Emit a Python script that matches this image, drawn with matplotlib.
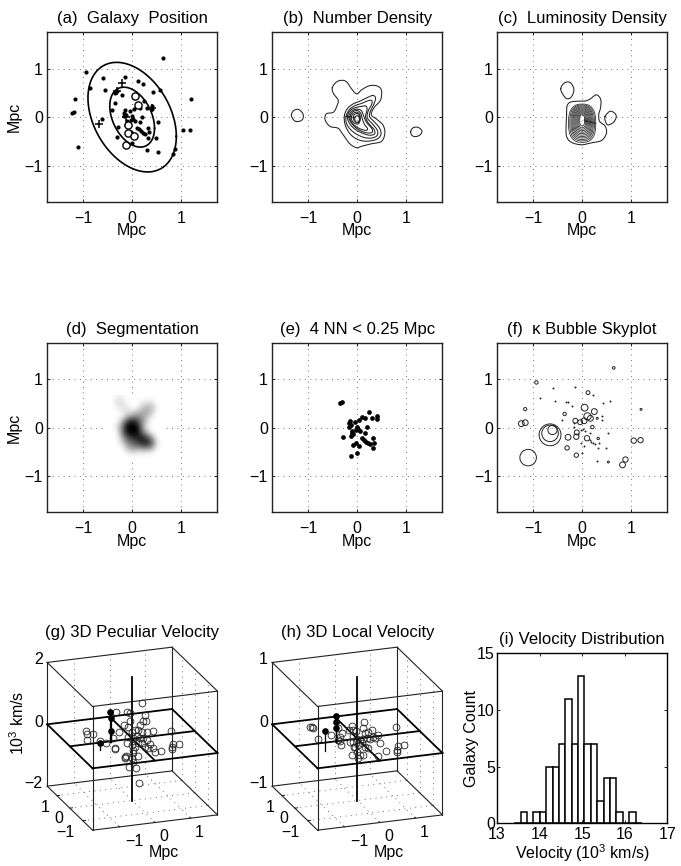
import numpy as np
import matplotlib
matplotlib.use("Agg")
import matplotlib.pyplot as plt
from matplotlib.patches import Circle

plt.rcParams['font.family'] = ['Liberation Sans', 'DejaVu Sans']
plt.rcParams['mathtext.fontset'] = 'custom'
plt.rcParams['mathtext.rm'] = 'Liberation Sans'
plt.rcParams['mathtext.default'] = 'regular'
plt.rcParams['axes.unicode_minus'] = True

FS = 11.5

# ---------- data (Mpc) ----------
# galaxies in the central clump, panel (e)
core_x = [-0.35, -0.31, 0.25, 0.40, 0.41, 0.31, 0.10, 0.16, 0.04, -0.05, -0.14, -0.17, -0.13, -0.16, 0.21,
          -0.01, 0.02, -0.03, 0.05, -0.10, -0.13, -0.08, -0.11, 0.17, -0.29, 0.09, 0.14, 0.19, 0.23, 0.27,
          0.33, 0.35, 0.33, -0.03, -0.08, 0.04, -0.01, -0.12]
core_y = [0.50, 0.53, 0.33, 0.24, 0.17, 0.19, 0.22, 0.19, 0.16, 0.12, 0.14, 0.09, 0.05, 0.02, 0.01,
          0.02, -0.03, -0.06, -0.08, -0.08, -0.17, -0.13, -0.11, -0.11, -0.20, -0.22, -0.25, -0.29, -0.32, -0.34,
          -0.22, -0.31, -0.43, -0.31, -0.35, -0.38, -0.53, -0.58]
# the rest of the galaxies, panel (a)
outer_x = [0.64, -0.95, -0.60, -0.14, 0.12, 0.22, -0.87, -0.55, 0.42, 0.57, -0.20, -1.17, 1.21, -0.36, -0.42,
           -1.24, -1.19, -0.61, 0.53, -0.31, -1.11, 1.05, 1.19, 0.31, 0.53, 0.88, 0.83, 0.48]
outer_y = [1.23, 0.93, 0.81, 0.83, 0.74, 0.68, 0.61, 0.55, 0.52, 0.55, 0.45, 0.38, 0.38, 0.29, 0.15,
           0.08, 0.10, -0.04, -0.11, -0.41, -0.61, -0.26, -0.26, -0.68, -0.71, -0.65, -0.76, -0.44]
big_x = [0.05, 0.11, -0.09, -0.09, 0.04, -0.13]
big_y = [0.43, 0.25, -0.16, -0.33, -0.39, -0.57]
plus_x = [-0.20, -0.31, 0.41, -0.68, -0.13]
plus_y = [0.71, 0.53, 0.18, -0.14, 0.01]
# ellipses: x extent, y extent, covariance
ell_sx = [0.908, 0.46]
ell_sy = [1.13, 0.618]
ell_sxy = [-0.36, -0.105]

# panel (b) contours
num_outer = [
    [(-0.51, 0.61), (-0.42, 0.73), (-0.29, 0.76), (-0.20, 0.71), (-0.12, 0.59), (-0.01, 0.48), (0.10, 0.57),
     (0.26, 0.65), (0.42, 0.64), (0.50, 0.55), (0.48, 0.35), (0.35, 0.20), (0.29, 0.05), (0.40, -0.04),
     (0.53, -0.16), (0.57, -0.33), (0.50, -0.50), (0.29, -0.55), (0.09, -0.60), (-0.01, -0.63), (-0.15, -0.55),
     (-0.29, -0.36), (-0.39, -0.23), (-0.56, -0.19), (-0.66, -0.05), (-0.63, 0.07), (-0.49, 0.10), (-0.42, 0.22),
     (-0.39, 0.35), (-0.49, 0.49)],
    [(-1.35, 0.03), (-1.31, 0.13), (-1.21, 0.16), (-1.12, 0.08), (-1.11, -0.02), (-1.17, -0.08), (-1.28, -0.08)],
    [(1.10, -0.30), (1.15, -0.22), (1.25, -0.21), (1.33, -0.28), (1.30, -0.36), (1.21, -0.40), (1.13, -0.38)],
]
num_inner = [
    [(-0.27, 0.05), (-0.22, 0.18), (-0.08, 0.29), (0.05, 0.32), (0.19, 0.39), (0.33, 0.48), (0.40, 0.41),
     (0.36, 0.29), (0.26, 0.11), (0.22, 0.01), (0.36, -0.09), (0.48, -0.23), (0.51, -0.36), (0.44, -0.46),
     (0.26, -0.50), (0.09, -0.50), (-0.08, -0.43), (-0.20, -0.29), (-0.27, -0.12)],
    [(-0.24, 0.01), (-0.18, 0.16), (-0.05, 0.25), (0.09, 0.27), (0.21, 0.34), (0.31, 0.37), (0.33, 0.29),
     (0.21, 0.12), (0.17, -0.02), (0.33, -0.14), (0.43, -0.27), (0.44, -0.38), (0.33, -0.44), (0.16, -0.44),
     (-0.01, -0.36), (-0.15, -0.26), (-0.24, -0.12)],
    [(-0.22, 0.01), (-0.16, 0.15), (-0.03, 0.21), (0.09, 0.21), (0.19, 0.26), (0.23, 0.17), (0.14, 0.01),
     (0.21, -0.12), (0.37, -0.25), (0.39, -0.36), (0.26, -0.39), (0.09, -0.33), (-0.08, -0.24), (-0.18, -0.11)],
    [(-0.20, 0.01), (-0.13, 0.13), (-0.01, 0.18), (0.10, 0.16), (0.13, 0.01), (0.18, -0.12), (0.33, -0.24),
     (0.34, -0.34), (0.16, -0.33), (-0.01, -0.25), (-0.13, -0.12)],
    [(-0.17, 0.0), (-0.10, 0.12), (0.0, 0.16), (0.09, 0.09), (0.10, -0.04), (0.14, -0.16), (0.23, -0.23),
     (0.22, -0.29), (0.09, -0.26), (-0.05, -0.19), (-0.13, -0.09)],
    [(-0.14, 0.0), (-0.08, 0.09), (0.0, 0.12), (0.07, 0.06), (0.07, -0.07), (0.03, -0.17), (-0.06, -0.13),
     (-0.11, -0.07)],
    [(-0.10, 0.0), (-0.05, 0.07), (0.01, 0.09), (0.06, 0.02), (0.06, -0.08), (0.0, -0.13), (-0.06, -0.08)],
    [(-0.06, 0.0), (0.0, 0.05), (0.05, 0.0), (0.05, -0.09), (0.0, -0.14), (-0.05, -0.08)],
]

# panel (c) contours
lum_contours = [
    [(-0.32, 0.05), (-0.31, 0.23), (-0.24, 0.31), (-0.08, 0.33), (0.05, 0.33), (0.16, 0.37), (0.29, 0.46),
     (0.38, 0.37), (0.38, 0.20), (0.34, 0.05), (0.36, -0.09), (0.47, -0.18), (0.50, -0.33), (0.40, -0.48),
     (0.19, -0.53), (-0.01, -0.57), (-0.22, -0.52), (-0.32, -0.40), (-0.33, -0.19)],
    [(-0.44, 0.59), (-0.36, 0.71), (-0.24, 0.71), (-0.17, 0.57), (-0.22, 0.42), (-0.31, 0.38), (-0.39, 0.46)],
    [(0.47, 0.01), (0.57, 0.12), (0.67, 0.08), (0.70, 0.0), (0.64, -0.11), (0.53, -0.16), (0.48, -0.09)],
]
lum_halfw = [0.28, 0.255, 0.23, 0.21, 0.19, 0.17, 0.15, 0.13, 0.11, 0.09, 0.07, 0.05]
lum_top = [0.27, 0.25, 0.23, 0.21, 0.19, 0.17, 0.15, 0.13, 0.11, 0.09, 0.07, 0.05]
lum_bot = [-0.52, -0.49, -0.46, -0.43, -0.40, -0.37, -0.34, -0.31, -0.28, -0.25, -0.22, -0.18]

# panel (d) darkness on a 0.1 Mpc grid
seg_x = [-0.5, -0.4, -0.3, -0.2, -0.1, 0.0, 0.1, 0.2, 0.3, 0.4, 0.5, 0.6]
seg_y = [0.6, 0.5, 0.4, 0.3, 0.2, 0.1, 0.0, -0.1, -0.2, -0.3, -0.4, -0.5, -0.6]
seg_dark = [
    [0, 0, .07, .05, 0, 0, 0, 0, 0, 0, 0, 0],
    [0, 0, .14, .12, .03, 0, 0, .05, .12, .12, 0, 0],
    [0, 0, .06, .12, .10, 0, .03, .18, .28, .26, .05, 0],
    [0, 0, 0, .05, .13, .14, .26, .34, .34, .22, 0, 0],
    [0, 0, 0, .10, .32, .50, .50, .42, .26, .06, 0, 0],
    [0, 0, .04, .32, .78, .95, .80, .45, .14, 0, 0, 0],
    [0, 0, .12, .50, 1.0, 1.0, 1.0, .48, .10, 0, 0, 0],
    [0, 0, .06, .48, .95, 1.0, 1.0, .62, .25, .03, 0, 0],
    [0, 0, .02, .36, .68, .85, .90, .85, .70, .36, .03, 0],
    [0, 0, 0, .18, .48, .62, .75, .88, .88, .65, .14, 0],
    [0, 0, 0, .05, .30, .45, .50, .58, .62, .48, .08, 0],
    [0, 0, 0, 0, .08, .20, .14, .12, .12, .08, 0, 0],
    [0, 0, 0, 0, 0, 0, 0, 0, 0, 0, 0, 0],
]

# panel (f) bubbles
bub_x = [-1.11, -0.66, -0.66, -0.61, -1.25, -1.17, -0.94, -1.17, 0.65, 0.12, 0.05, 0.25, 0.11, 0.17, 0.04, -0.04,
         -0.14, -0.36, 1.21, 0.31, 0.21, -0.29, -0.31, -0.12, -0.11, 0.10, 0.33, -0.12, 1.06, 1.20, 0.89, 0.83, 0.54]
bub_y = [-0.62, -0.15, -0.12, -0.05, 0.08, 0.10, 0.93, 0.38, 1.23, 0.72, 0.41, 0.33, 0.23, 0.19, 0.14, 0.11,
         0.14, 0.28, 0.375, 0.19, 0.01, -0.20, -0.42, -0.19, -0.10, -0.22, -0.225, -0.57, -0.27, -0.26, -0.66, -0.77, -0.71]
bub_r = [0.17, 0.225, 0.17, 0.095, 0.06, 0.06, 0.035, 0.033, 0.027, 0.04, 0.07, 0.06, 0.075, 0.06, 0.06, 0.05,
         0.05, 0.035, 0.02, 0.02, 0.035, 0.06, 0.045, 0.055, 0.05, 0.055, 0.025, 0.045, 0.055, 0.055, 0.055, 0.06, 0.02]
tiny_x = [-0.60, -0.14, -0.87, -0.55, -0.34, -0.30, -0.20, 0.22, 0.42, 0.57, -0.42, 0.40, 0.40, -0.17, -0.16, 0.02,
          0.05, -0.03, 0.17, -0.08, 0.16, 0.19, 0.23, 0.27, 0.35, 0.33, -0.03, 0.04, -0.01, 0.48, 0.31, 0.53]
tiny_y = [0.81, 0.83, 0.61, 0.54, 0.52, 0.53, 0.44, 0.67, 0.51, 0.55, 0.15, 0.23, 0.16, 0.09, 0.01, -0.03,
          -0.08, -0.06, -0.11, -0.13, -0.26, -0.29, -0.32, -0.34, -0.31, -0.43, -0.32, -0.39, -0.53, -0.43, -0.68, -0.12]

# panels (g), (h): galaxies as seen in the view plane (u across, w up)
g_u = [0.28, -0.50, -0.17, -0.07, 0.38, -0.07, 0.33, 0.40, -0.25, -0.12, -0.39, 0.23, -1.40, -1.35, -1.17, -1.35,
       -0.79, -0.57, -0.52, -0.52, -0.19, -0.22, 0.18, 0.08, -0.02, 0.28, 0.43, 0.61, 1.16, -0.12, 0.03, 0.13,
       0.23, 0.33, 0.43, -0.17, -0.02, 0.08, 0.18, 0.28, 0.38, 0.48, 0.53, 0.68, 0.85, 0.63, 1.20, 1.20, 1.23,
       1.39, 0.03, 0.03, 0.18, -0.02, 0.01, -0.09, 0.10, 0.19, -0.22, -0.97]
g_w = [1.07, 0.80, 0.80, 0.76, 0.71, 0.53, 0.53, 0.53, 0.41, 0.36, 0.21, 0.41, 0.23, 0.13, 0.15, -0.04,
       -0.14, 0.03, -0.27, -0.32, -0.51, -0.57, 0.26, 0.26, 0.21, 0.21, 0.19, 0.24, 0.24, 0.06, 0.03, 0.09,
       0.01, 0.03, -0.04, -0.14, -0.19, -0.24, -0.14, -0.14, -0.24, -0.29, -0.17, -0.41, -0.37, -0.29, -0.24, -0.31, -0.16,
       -0.16, -0.34, -0.44, -0.51, -0.59, -0.69, -0.86, -0.87, -1.34, -0.54, -0.07]
g_fill_u = [-0.66, -0.64, -0.64, -0.96]
g_fill_w = [0.81, 0.61, 0.24, -0.14]
g_base_w = [-0.09, -0.09, -0.09, -0.34]

h_u = [-1.42, -1.37, -1.32, -1.17, -0.80, -0.47, -0.52, -0.57, -0.52, -0.49, -0.59, -0.17, 0.20, 0.18, -0.25, -0.12,
       -0.05, 0.23, 0.33, 0.43, 0.61, 0.53, 1.16, -0.12, -0.22, -0.02, 0.08, 0.18, 0.28, 0.38, 0.48, -0.07, 0.03,
       0.13, 0.23, 0.33, 0.68, 0.85, 0.61, 1.20, 1.18, 1.23, 1.39, -0.17, -0.02, 0.08, 0.18, 0.03, -0.09, -0.12]
h_w = [0.35, 0.34, 0.33, -0.01, 0.11, 0.16, 0.06, -0.04, -0.07, -0.19, 0.31, 0.39, 0.51, 0.33, 0.26, 0.26,
       0.23, 0.16, 0.21, 0.26, 0.11, 0.03, 0.34, -0.09, -0.09, -0.01, -0.04, -0.01, 0.03, -0.01, 0.06, -0.24, -0.19,
       -0.14, -0.24, -0.29, -0.14, -0.37, -0.52, -0.34, -0.39, -0.21, -0.19, -0.49, -0.39, -0.49, -0.49, -0.59, -0.24, 0.09]
h_fill_u = [-0.64, -0.64, -0.64, -0.96]
h_fill_w = [0.68, 0.49, 0.31, 0.24]
h_base_w = [-0.09, -0.09, -0.09, -0.36]

# panel (i)
vel_centers = [13.48, 13.63, 13.78, 13.93, 14.08, 14.23, 14.38, 14.53, 14.68, 14.83, 14.98, 15.13, 15.28, 15.43,
               15.58, 15.73, 15.88, 16.03, 16.18, 16.33]
vel_counts = [0, 1, 0, 1, 1, 5, 5, 7, 11, 7, 13, 7, 7, 2, 4, 4, 1, 0, 1, 0]

# ---------- layout ----------
W, H = 681.0, 866.0
fig = plt.figure(figsize=(6.81, 8.66), dpi=100)
DOTS = (0, (1, 5.5))


def make_axes(l, t, r, b):
    return fig.add_axes([l / W, 1 - b / H, (r - l) / W, (b - t) / H])


def smooth_loop(pts, n=14, round_tips=False):
    # closed Catmull-Rom through the points
    p = np.array(pts, dtype=float)
    if round_tips:
        p = 0.2 * np.roll(p, 1, axis=0) + 0.6 * p + 0.2 * np.roll(p, -1, axis=0)
    t = np.linspace(0, 1, n, endpoint=False)[:, None]
    out = []
    for i in range(len(p)):
        p0, p1, p2, p3 = p[i - 1], p[i], p[(i + 1) % len(p)], p[(i + 2) % len(p)]
        out.append(0.5 * (2 * p1 + (p2 - p0) * t + (2 * p0 - 5 * p1 + 4 * p2 - p3) * t ** 2
                          + (3 * p1 - p0 - 3 * p2 + p3) * t ** 3))
    out = np.vstack(out)
    return np.vstack([out, out[0]])


def sky_axes(l, t, title, ylabel=False):
    ax = make_axes(l, t, l + 170.3, t + 169.7)
    ax.set_xlim(-1.75, 1.75)
    ax.set_ylim(-1.75, 1.75)
    ax.set_xticks([-1, 0, 1])
    ax.set_yticks([-1, 0, 1])
    ax.tick_params(direction='in', length=2.5, width=0.6, top=True, right=True, labelsize=FS, pad=3)
    ax.tick_params(axis='x', pad=6.5)
    ax.grid(True, linestyle=DOTS, color='#444444', linewidth=0.6)
    ax.set_axisbelow(True)
    for s in ax.spines.values():
        s.set_linewidth(1.0)
        s.set_color('#222222')
    ax.set_title(title, fontsize=FS + 0.5, pad=6.5)
    ax.set_xlabel('Mpc', fontsize=FS, labelpad=-2)
    if ylabel:
        ax.set_ylabel('Mpc', fontsize=FS, labelpad=2)
    return ax


# (a)
ax = sky_axes(47, 32.3, '(a)  Galaxy  Position', ylabel=True)
ax.plot(outer_x + core_x, outer_y + core_y, 'o', color='k', ms=3.0, mew=0)
ax.plot(big_x, big_y, 'o', mfc='white', mec='k', ms=5.2, mew=1.0)
ax.plot(plus_x, plus_y, '+', color='k', ms=6, mew=1.1)
t = np.linspace(0, 2 * np.pi, 200)
for sx, sy, sxy in zip(ell_sx, ell_sy, ell_sxy):
    ex = sx * np.cos(t)
    ey = sxy / sx * np.cos(t) + np.sqrt(sy ** 2 - (sxy / sx) ** 2) * np.sin(t)
    ax.plot(ex, ey, color='k', lw=1.2)

# (b)
ax = sky_axes(272, 32.3, '(b)  Number Density')
for loop in num_outer:
    c = smooth_loop(loop)
    ax.plot(c[:, 0], c[:, 1], color='#222222', lw=0.75)
for loop in num_inner:
    c = smooth_loop(loop, round_tips=True)
    ax.plot(c[:, 0], c[:, 1], color='#222222', lw=0.75)

# (c)
ax = sky_axes(497, 32.3, '(c)  Luminosity Density')
for loop in lum_contours:
    c = smooth_loop(loop)
    ax.plot(c[:, 0], c[:, 1], color='#222222', lw=0.75)
for hw, top, bot in zip(lum_halfw, lum_top, lum_bot):
    cy = (top + bot) / 2
    hh = (top - bot) / 2
    ex = np.sign(np.cos(t)) * np.abs(np.cos(t)) ** (2 / 2.6) * hw
    ey = cy + np.sign(np.sin(t)) * np.abs(np.sin(t)) ** (2 / 2.6) * hh
    ax.plot(ex, ey, color='#333333', lw=0.6)

# (d)
ax = sky_axes(47, 342.7, '(d)  Segmentation', ylabel=True)
ax.imshow(seg_dark, cmap='gray_r', vmin=0, vmax=1, interpolation='bicubic', aspect='auto', zorder=1,
          extent=[seg_x[0] - 0.05, seg_x[-1] + 0.05, seg_y[-1] - 0.05, seg_y[0] + 0.05])
ax.set_xlim(-1.75, 1.75)
ax.set_ylim(-1.75, 1.75)

# (e)
ax = sky_axes(272, 342.7, '(e)  4 NN < 0.25 Mpc')
ax.plot(core_x, core_y, 'o', color='k', ms=3.4, mew=0)

# (f)
ax = sky_axes(497, 342.7, '(f)  \u03ba Bubble Skyplot')
for x, y, r in zip(bub_x, bub_y, bub_r):
    ax.add_patch(Circle((x, y), r, fill=False, ec='#222222', lw=0.7))
ax.plot(tiny_x, tiny_y, 'o', color='#222222', ms=1.4, mew=0)

# projection of the 3D box onto the view plane
UX, UY = 1.071, -0.389
WX, WY, WZ = 0.131, 0.377, 1.855
BOX = 1.75


def project(x, y, z):
    # z is scaled to -1..1 across the box height
    return x * UX + y * UY, x * WX + y * WY + z * WZ


def seg3d(ax, a, b, **kw):
    ua, wa = project(*a)
    ub, wb = project(*b)
    ax.plot([ua, ub], [wa, wb], solid_capstyle='projecting', clip_on=False, **kw)


def view_axes(l, title, z_labels, pts_u, pts_w, fill_u, fill_w, base_w, ylabel=False):
    ax = make_axes(l, 647.3, l + 170.3, 829.7)
    ax.set_xlim(-2.56, 2.55)
    ax.set_ylim(-2.73, 2.74)
    ax.axis('off')
    B = BOX
    dot = dict(color='#444444', lw=0.6, linestyle=DOTS)
    for v in [-1, 0, 1]:
        seg3d(ax, (v, B, -1), (v, B, 1), **dot)
        seg3d(ax, (B, v, -1), (B, v, 1), **dot)
        seg3d(ax, (v, -B, -1), (v, B, -1), **dot)
        seg3d(ax, (-B, v, -1), (B, v, -1), **dot)
        seg3d(ax, (v, -B, -1), (v, -B + 0.08, -1), color='k', lw=0.6)
        seg3d(ax, (-B, v, -1), (-B + 0.08, v, -1), color='k', lw=0.6)
    seg3d(ax, (-B, B, 0), (B, B, 0), **dot)
    seg3d(ax, (B, -B, 0), (B, B, 0), **dot)
    # box outline
    thin = dict(color='#222222', lw=0.8)
    corners = [(-B, -B), (B, -B), (B, B), (-B, B)]
    for i in range(4):
        a, b = corners[i], corners[(i + 1) % 4]
        seg3d(ax, (a[0], a[1], 1), (b[0], b[1], 1), **thin)
        seg3d(ax, (a[0], a[1], -1), (b[0], b[1], -1), **thin)
        seg3d(ax, (a[0], a[1], -1), (a[0], a[1], 1), **thin)
    # velocity zero plane and axes
    thick = dict(color='k', lw=1.3)
    for i in range(4):
        a, b = corners[i], corners[(i + 1) % 4]
        seg3d(ax, (a[0], a[1], 0), (b[0], b[1], 0), **thick)
    seg3d(ax, (-B, 0, 0), (B, 0, 0), **thick)
    seg3d(ax, (0, -B, 0), (0, B, 0), **thick)
    seg3d(ax, (0, 0, -1), (0, 0, 1), **thick)
    # galaxies
    ax.plot(pts_u, pts_w, 'o', mfc='none', mec='#222222', ms=4.9, mew=0.6, clip_on=False)
    for u, w, b in zip(fill_u, fill_w, base_w):
        ax.plot([u, u], [w, b], color='k', lw=0.9)
    ax.plot(fill_u, fill_w, 'o', color='k', ms=4.8, mew=0)
    ax.text(0.0, 2.95, title, fontsize=FS + 0.5, ha='center', va='bottom', clip_on=False)
    # tick labels
    for txt, u, w in z_labels:
        ax.text(u, w, txt, fontsize=FS, ha='center', va='center')
    for txt, u, w in [('\u22121', -2.0, -2.80), ('0', -2.22, -2.40), ('1', -2.6, -2.06)]:
        ax.text(u, w, txt, fontsize=FS, ha='center', va='center')
    for txt, u, w in [('\u22121', 0.05, -3.09), ('0', 0.95, -2.94), ('1', 2.0, -2.81)]:
        ax.text(u, w, txt, fontsize=FS, ha='center', va='center')
    ax.text(0.95, -3.41, 'Mpc', fontsize=FS, ha='center', va='center')
    if ylabel:
        ax.text(-3.45, 0.46, '$10^3$ km/s', fontsize=FS, rotation=90, ha='center', va='center')
    return ax


view_axes(47, '(g) 3D Peculiar Velocity', [('2', -2.82, 2.38), ('0', -2.82, 0.49), ('\u22122', -2.97, -1.34)],
          g_u, g_w, g_fill_u, g_fill_w, g_base_w, ylabel=True)
view_axes(272, '(h) 3D Local Velocity', [('1', -2.82, 2.38), ('0', -2.82, 0.49), ('\u22121', -2.97, -1.34)],
          h_u, h_w, h_fill_u, h_fill_w, h_base_w)

# (i)
ax = make_axes(497, 653.3, 667.3, 823.3)
ax.bar(vel_centers, vel_counts, width=0.15, facecolor='white', edgecolor='k', linewidth=1.1)
ax.set_xlim(13, 17)
ax.set_ylim(0, 15)
ax.set_xticks([13, 14, 15, 16, 17])
ax.set_yticks([0, 5, 10, 15])
ax.tick_params(direction='in', length=2.5, width=0.6, top=True, right=True, labelsize=FS, pad=3)
ax.tick_params(axis='y', pad=1.5)
for s in ax.spines.values():
    s.set_linewidth(1.0)
ax.set_title('(i) Velocity Distribution', fontsize=FS + 0.5, pad=6.5)
ax.set_xlabel('Velocity ($10^3$ km/s)', fontsize=FS, labelpad=0)
ax.set_ylabel('Galaxy Count', fontsize=FS, labelpad=-1)

fig.savefig('out.png', dpi=100)
